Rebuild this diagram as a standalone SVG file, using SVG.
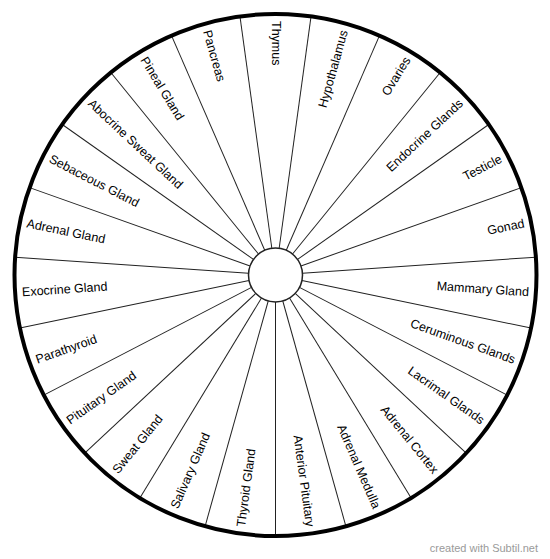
<svg xmlns="http://www.w3.org/2000/svg" width="550" height="559" viewBox="0 0 550 559">
<style>
.sp{stroke:#222;stroke-width:1}
.lb{font-family:"Liberation Sans",Arial,sans-serif;font-size:12.5px;fill:#000;dominant-baseline:central}
.r{text-anchor:end}
.l{text-anchor:start}
</style>
<rect width="550" height="559" fill="#fff"/>
<g transform="translate(275.5,275)">
<g id="connectors">
<line class="sp" x1="27" y1="0" x2="261" y2="0" transform="rotate(262.174)"/>
<line class="sp" x1="27" y1="0" x2="261" y2="0" transform="rotate(277.826)"/>
<line class="sp" x1="27" y1="0" x2="261" y2="0" transform="rotate(293.478)"/>
<line class="sp" x1="27" y1="0" x2="261" y2="0" transform="rotate(309.130)"/>
<line class="sp" x1="27" y1="0" x2="261" y2="0" transform="rotate(324.783)"/>
<line class="sp" x1="27" y1="0" x2="261" y2="0" transform="rotate(340.435)"/>
<line class="sp" x1="27" y1="0" x2="261" y2="0" transform="rotate(356.087)"/>
<line class="sp" x1="27" y1="0" x2="261" y2="0" transform="rotate(11.739)"/>
<line class="sp" x1="27" y1="0" x2="261" y2="0" transform="rotate(27.391)"/>
<line class="sp" x1="27" y1="0" x2="261" y2="0" transform="rotate(43.043)"/>
<line class="sp" x1="27" y1="0" x2="261" y2="0" transform="rotate(58.696)"/>
<line class="sp" x1="27" y1="0" x2="261" y2="0" transform="rotate(74.348)"/>
<line class="sp" x1="27" y1="0" x2="261" y2="0" transform="rotate(90)"/>
<line class="sp" x1="27" y1="0" x2="261" y2="0" transform="rotate(105.652)"/>
<line class="sp" x1="27" y1="0" x2="261" y2="0" transform="rotate(121.304)"/>
<line class="sp" x1="27" y1="0" x2="261" y2="0" transform="rotate(136.957)"/>
<line class="sp" x1="27" y1="0" x2="261" y2="0" transform="rotate(152.609)"/>
<line class="sp" x1="27" y1="0" x2="261" y2="0" transform="rotate(168.261)"/>
<line class="sp" x1="27" y1="0" x2="261" y2="0" transform="rotate(183.913)"/>
<line class="sp" x1="27" y1="0" x2="261" y2="0" transform="rotate(199.565)"/>
<line class="sp" x1="27" y1="0" x2="261" y2="0" transform="rotate(215.217)"/>
<line class="sp" x1="27" y1="0" x2="261" y2="0" transform="rotate(230.870)"/>
<line class="sp" x1="27" y1="0" x2="261" y2="0" transform="rotate(246.522)"/>
</g>
<g id="rim"><circle r="261" fill="none" stroke="#000" stroke-width="4"/></g>
<g id="hub"><circle r="27" fill="#fff" stroke="#222" stroke-width="1.5"/></g>
<g id="n-thymus"><text class="lb l" transform="rotate(-90) translate(254,0) rotate(180)">Thymus</text></g>
<g id="n-hypothalamus"><text class="lb r" transform="rotate(-74.348) translate(254,0)">Hypothalamus</text></g>
<g id="n-ovaries"><text class="lb r" transform="rotate(-58.696) translate(254,0)">Ovaries</text></g>
<g id="n-endocrine"><text class="lb r" transform="rotate(-43.043) translate(254,0)">Endocrine Glands</text></g>
<g id="n-testicle"><text class="lb r" transform="rotate(-27.391) translate(254,0)">Testicle</text></g>
<g id="n-gonad"><text class="lb r" transform="rotate(-11.739) translate(254,0)">Gonad</text></g>
<g id="n-mammary"><text class="lb r" transform="rotate(3.913) translate(254,0)">Mammary Gland</text></g>
<g id="n-ceruminous"><text class="lb r" transform="rotate(19.565) translate(254,0)">Ceruminous Glands</text></g>
<g id="n-lacrimal"><text class="lb r" transform="rotate(35.217) translate(254,0)">Lacrimal Glands</text></g>
<g id="n-adrenal-cortex"><text class="lb r" transform="rotate(50.870) translate(254,0)">Adrenal Cortex</text></g>
<g id="n-adrenal-medulla"><text class="lb r" transform="rotate(66.522) translate(254,0)">Adrenal Medulla</text></g>
<g id="n-anterior-pituitary"><text class="lb r" transform="rotate(82.174) translate(254,0)">Anterior Pituitary</text></g>
<g id="n-thyroid"><text class="lb l" transform="rotate(97.826) translate(254,0) rotate(180)">Thyroid Gland</text></g>
<g id="n-salivary"><text class="lb l" transform="rotate(113.478) translate(254,0) rotate(180)">Salivary Gland</text></g>
<g id="n-sweat"><text class="lb l" transform="rotate(129.130) translate(254,0) rotate(180)">Sweat Gland</text></g>
<g id="n-pituitary"><text class="lb l" transform="rotate(144.783) translate(254,0) rotate(180)">Pituitary Gland</text></g>
<g id="n-parathyroid"><text class="lb l" transform="rotate(160.435) translate(254,0) rotate(180)">Parathyroid</text></g>
<g id="n-exocrine"><text class="lb l" transform="rotate(176.087) translate(254,0) rotate(180)">Exocrine Gland</text></g>
<g id="n-adrenal"><text class="lb l" transform="rotate(191.739) translate(254,0) rotate(180)">Adrenal Gland</text></g>
<g id="n-sebaceous"><text class="lb l" transform="rotate(207.391) translate(254,0) rotate(180)">Sebaceous Gland</text></g>
<g id="n-abocrine"><text class="lb l" transform="rotate(223.043) translate(254,0) rotate(180)">Abocrine Sweat Gland</text></g>
<g id="n-pineal"><text class="lb l" transform="rotate(238.696) translate(254,0) rotate(180)">Pineal Gland</text></g>
<g id="n-pancreas"><text class="lb l" transform="rotate(254.348) translate(254,0) rotate(180)">Pancreas</text></g>
</g>
<text x="538" y="552" text-anchor="end" font-family="Liberation Sans,Arial,sans-serif" font-size="11" fill="#9a9a9a">created with Subtil.net</text>
</svg>
